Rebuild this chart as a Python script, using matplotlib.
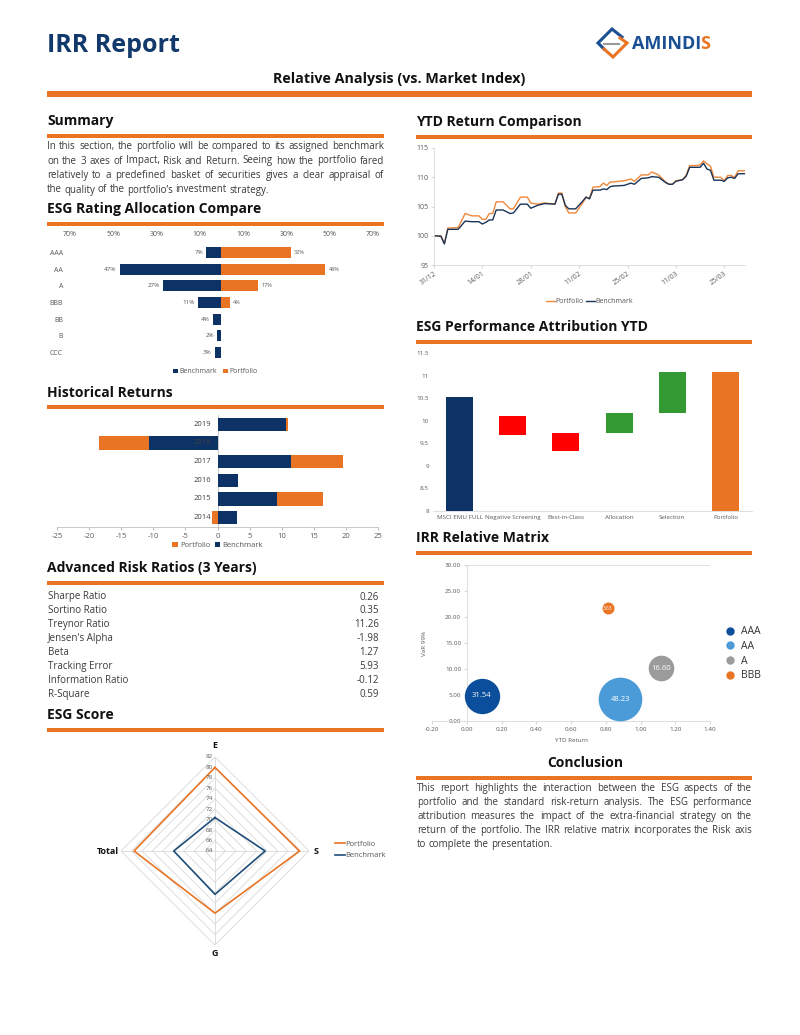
import matplotlib
matplotlib.use('Agg')
import numpy as np
import matplotlib.pyplot as plt
from matplotlib.patches import Rectangle
from matplotlib.lines import Line2D

plt.rcParams['font.family'] = ['Open Sans', 'DejaVu Sans']
plt.rcParams['axes.unicode_minus'] = False

## Data ##
rating_cats = ['AAA', 'AA', 'A', 'BBB', 'BB', 'B', 'CCC']
rating_bench = [7, 47, 27, 11, 4, 2, 3]
rating_port = [32, 48, 17, 4, 0, 0, 0]

hist_years = [2019, 2018, 2017, 2016, 2015, 2014]
hist_port = [11.0, -18.4, 19.6, 2.9, 16.5, -0.9]
hist_bench = [10.6, -10.6, 11.4, 3.2, 9.3, 3.1]

risk_names = ['Sharpe Ratio', 'Sortino Ratio', 'Treynor Ratio', "Jensen's Alpha",
              'Beta', 'Tracking Error', 'Information Ratio', 'R-Square']
risk_values = ['0.26', '0.35', '11.26', '-1.98', '1.27', '5.93', '-0.12', '0.59']

esg_axes = ['E', 'S', 'G', 'Total']
esg_port = [80.0, 80.2, 75.9, 79.5]
esg_bench = [70.4, 73.6, 72.3, 71.9]

# days since 31/12
ytd_days = [0, 2, 3, 4, 7, 9, 11, 13, 14, 15, 16, 17, 18, 20, 22, 23, 25, 27, 28, 30,
            32, 35, 36, 37, 38, 39, 41, 43, 44, 45, 46, 48, 49, 50, 51, 52, 55, 57, 58, 60,
            62, 63, 65, 67, 68, 69, 70, 72, 73, 74, 76, 77, 78, 79, 80, 81, 83, 84, 85, 86,
            87, 88, 90]
ytd_port = [100, 100, 98.7, 101.3, 101.4, 103.8, 103.4, 103.4, 102.8, 102.8,
            103.8, 103.8, 105.8, 105.8, 104.6, 104.6, 106.6, 106.6, 105.6, 105.4,
            105.6, 105.4, 107.3, 107.3, 105.0, 103.9, 103.9, 105.6, 106.6, 106.4,
            108.3, 108.4, 109.0, 108.6, 109.2, 109.2, 109.4, 109.7, 109.3, 110.4,
            110.4, 110.9, 110.4, 109.2, 108.8, 108.8, 109.4, 109.6, 110.4, 112.0,
            112.0, 112.1, 112.8, 112.3, 111.9, 110.0, 110.0, 109.4, 110.3, 110.3,
            110.0, 111.1, 111.1]
ytd_bench = [100, 99.9, 98.6, 101.1, 101.1, 102.5, 102.4, 102.4, 102.0, 102.3,
             102.7, 102.7, 104.4, 104.4, 103.8, 103.9, 105.4, 105.4, 104.7, 105.2,
             105.5, 105.4, 107.1, 107.1, 105.2, 104.6, 104.6, 105.9, 106.6, 106.3,
             107.8, 107.8, 108.0, 107.9, 108.4, 108.5, 108.6, 109.0, 108.8, 109.8,
             109.9, 110.1, 110.0, 109.1, 108.8, 108.8, 109.3, 109.6, 110.2, 111.7,
             111.7, 111.7, 112.4, 111.4, 111.2, 109.5, 109.5, 109.3, 109.9, 110.0,
             109.8, 110.6, 110.6]
ytd_tick_days = [0, 14, 28, 42, 56, 70, 84]
ytd_tick_labels = ['31/12', '14/01', '28/01', '11/02', '25/02', '11/03', '25/03']

wf_cats = ['MSCI EMU FULL', 'Negative Screening', 'Best-in-Class', 'Allocation', 'Selection', 'Portfolio']
wf_values = [10.52, -0.42, -0.38, 0.46, 0.89, 11.07]

irr_labels = ['AAA', 'AA', 'A', 'BBB']
irr_x = [0.087, 0.883, 1.118, 0.812]
irr_y = [4.86, 4.2, 10.1, 21.7]
irr_size = [31.54, 48.23, 16.60, 3.63]

summary_lines = [
    "In this section, the portfolio will be compared to its assigned benchmark",
    "on the 3 axes of Impact, Risk and Return. Seeing how the portfolio fared",
    "relatively to a predefined basket of securities gives a clear appraisal of",
    "the quality of the portfolio\u2019s investment strategy."]
conclusion_lines = [
    "This report highlights the interaction between the ESG aspects of the",
    "portfolio and the standard risk-return analysis. The ESG performance",
    "attribution measures the impact of the extra-financial strategy on the",
    "return of the portfolio. The IRR relative matrix incorporates the Risk axis",
    "to complete the presentation."]

## Style ##
ORANGE = '#E97424'
NAVY = '#0D3366'
TITLE_NAVY = '#12396B'
GREY = '#595959'
TEXT = '#3A3A3A'
AXC = '#D9D9D9'

W, H = 800, 1035
fig = plt.figure(figsize=(8, 10.35), dpi=100)
renderer = fig.canvas.get_renderer()


def fx(x):
    return x / W


def fy(y):
    return 1 - y / H


def box(x0, y0, x1, y1):
    return [fx(x0), fy(y1), (x1 - x0) / W, (y1 - y0) / H]


def rule(x0, x1, y, lw=4.5):
    fig.add_artist(Rectangle((fx(x0), fy(y + lw / 2)), (x1 - x0) / W, lw / H,
                             transform=fig.transFigure, color=ORANGE, lw=0))


def heading(x, y, s, ha='left'):
    fig.text(fx(x), fy(y), s, fontsize=10, fontweight='bold', color='#111111', ha=ha, va='center')


# Justified paragraph: words placed one by one
def justify(lines, x0, x1, y0, dy, size=7):
    for i, line in enumerate(lines):
        words = line.split()
        y = y0 + i * dy
        texts = [fig.text(0, fy(y), w, fontsize=size, color=TEXT, va='center') for w in words]
        widths = [t.get_window_extent(renderer).width for t in texts]
        if i == len(lines) - 1:
            gap = size * 0.26 * 100 / 72
        else:
            gap = (x1 - x0 - sum(widths)) / (len(words) - 1)
        x = x0
        for t, w in zip(texts, widths):
            t.set_x(fx(x))
            x += w + gap


## Header ##
fig.text(fx(47), fy(46), 'IRR Report', fontsize=18, fontweight='bold', color=TITLE_NAVY, va='center')
t1 = fig.text(fx(632), fy(44), 'AMINDI', fontsize=13, fontweight='bold', color='#1B4F93', va='center')
ext = t1.get_window_extent(renderer)
fig.text(fx(ext.x1 - 1.2), fy(44), 'S', fontsize=13, fontweight='bold', color=ORANGE, va='center')
# logo mark
fig.add_artist(Line2D([fx(622), fx(612), fx(598), fx(604)], [fy(37), fy(29), fy(43), fy(49)],
                      color='#1B4F93', lw=2.2, transform=fig.transFigure, solid_joinstyle='miter'))
fig.add_artist(Line2D([fx(604), fx(613), fx(627), fx(620)], [fy(49), fy(57), fy(43), fy(38)],
                      color=ORANGE, lw=2.2, transform=fig.transFigure, solid_joinstyle='miter'))
fig.add_artist(Line2D([fx(604), fx(619)], [fy(44), fy(44)], color='#9A9A9A', lw=1.5,
                      transform=fig.transFigure))

fig.text(fx(399), fy(79), 'Relative Analysis (vs. Market Index)', fontsize=10.3, fontweight='bold',
         color='#111111', ha='center', va='center')
rule(47, 752, 94, lw=5)

## Left column ##
heading(47, 121, 'Summary')
rule(47, 384, 136)
justify(summary_lines, 47, 384, 146.5, 14.5)

heading(47, 209, 'ESG Rating Allocation Compare')
rule(47, 384, 224)

ax = fig.add_axes(box(70, 244, 373, 361))
yy = np.arange(len(rating_cats))
ax.barh(yy, [-v for v in rating_bench], height=0.66, color=NAVY, label='Benchmark')
ax.barh(yy, rating_port, height=0.66, color=ORANGE, label='Portfolio')
for i in range(len(rating_cats)):
    ax.text(-rating_bench[i] - 1.5, i, f'{rating_bench[i]}%', ha='right', va='center', fontsize=4.5, color=GREY)
    if rating_port[i] > 0:
        ax.text(rating_port[i] + 1.5, i, f'{rating_port[i]}%', ha='left', va='center', fontsize=4, color=GREY)
ax.set_xlim(-70, 70)
ax.set_ylim(6.5, -0.5)
ax.xaxis.tick_top()
ticks = [-70, -50, -30, -10, 10, 30, 50, 70]
ax.set_xticks(ticks, [f'{abs(t)}%' for t in ticks])
ax.set_yticks(yy, rating_cats)
ax.tick_params(length=0, labelsize=5, colors=GREY)
ax.tick_params(axis='y', pad=5)
ax.tick_params(axis='x', pad=4)
for s in ax.spines.values():
    s.set_visible(False)
ax.legend(loc='upper center', bbox_to_anchor=(0.48, -0.01), ncol=2, frameon=False, fontsize=5,
          handlelength=0.7, handleheight=0.7, columnspacing=0.8, handletextpad=0.3, labelcolor=GREY)

heading(47, 393, 'Historical Returns')
rule(47, 384, 407)

ax = fig.add_axes(box(57, 415, 378, 527))
yy = np.arange(len(hist_years))
ax.barh(yy, hist_port, height=0.72, color=ORANGE, label='Portfolio', zorder=2)
ax.barh(yy, hist_bench, height=0.72, color=NAVY, label='Benchmark', zorder=3)
ax.axvline(0, color='#BFBFBF', lw=0.6, zorder=1)
for i, yr in enumerate(hist_years):
    ax.text(-1.0, i, str(yr), ha='right', va='center', fontsize=5.5, color='#404040', zorder=4)
ax.set_xlim(-25, 25)
ax.set_ylim(5.5, -0.5)
ax.set_xticks(range(-25, 26, 5))
ax.set_yticks([])
ax.tick_params(axis='x', length=2, color='#BFBFBF', labelsize=5.5, labelcolor=GREY, pad=2)
for s in ['top', 'left', 'right']:
    ax.spines[s].set_visible(False)
ax.spines['bottom'].set_color('#BFBFBF')
ax.spines['bottom'].set_linewidth(0.6)
ax.legend(loc='upper center', bbox_to_anchor=(0.5, -0.07), ncol=2, frameon=False, fontsize=5.5,
          handlelength=0.7, handleheight=0.7, columnspacing=0.6, handletextpad=0.3, labelcolor=GREY)

heading(47, 568, 'Advanced Risk Ratios (3 Years)')
rule(47, 384, 583)
for i, (name, val) in enumerate(zip(risk_names, risk_values)):
    y = 597 + i * 13.9
    fig.text(fx(48), fy(y), name, fontsize=7, color=TEXT, va='center')
    fig.text(fx(379), fy(y), val, fontsize=7, color=TEXT, va='center', ha='right')

heading(47, 715, 'ESG Score')
rule(47, 384, 730)

ax = fig.add_axes(box(121, 757, 309, 945), projection='polar')
ax.set_theta_zero_location('N')
ax.set_theta_direction(-1)
ang = np.deg2rad([0, 90, 180, 270, 0])
ax.set_ylim(64, 82)
ax.grid(False)
ax.set_xticks([])
ax.set_yticks([])
ax.spines['polar'].set_visible(False)
for lvl in range(66, 83, 2):
    ax.plot(ang, [lvl] * 5, color=AXC, lw=0.6, zorder=1)
for a in ang[:4]:
    ax.plot([a, a], [64, 82], color=AXC, lw=0.6, zorder=1)
lp, = ax.plot(ang, esg_port + esg_port[:1], color=ORANGE, lw=1.2, zorder=3, label='Portfolio')
lb, = ax.plot(ang, esg_bench + esg_bench[:1], color='#1F4E79', lw=1.2, zorder=3, label='Benchmark')
for lvl in range(64, 83, 2):
    ax.annotate(str(lvl), (0, lvl), xytext=(-1.5, 0), textcoords='offset points', ha='right',
                va='center', fontsize=4.5, color=GREY, zorder=4)
for lab, (x, y) in zip(esg_axes, [(215, 746), (316, 851), (215, 953), (108, 851)]):
    fig.text(fx(x), fy(y), lab, fontsize=6.5, fontweight='bold', color='#111111', ha='center', va='center')
fig.legend(handles=[lp, lb], loc='center left', bbox_to_anchor=(fx(328), fy(850)), frameon=False,
           fontsize=5.5, handlelength=1.3, handletextpad=0.1, labelspacing=0.5, labelcolor=GREY)

## Right column ##
heading(416, 122, 'YTD Return Comparison')
rule(416, 752, 137)

ax = fig.add_axes(box(434, 148, 745, 265))
ax.plot(ytd_days, ytd_port, color='#F0883A', lw=1.0, label='Portfolio')
ax.plot(ytd_days, ytd_bench, color='#1A3358', lw=1.0, label='Benchmark')
ax.set_xlim(0, 90)
ax.set_ylim(95, 115)
ax.set_yticks(range(95, 116, 5))
ax.set_xticks(ytd_tick_days, ytd_tick_labels, rotation=35, ha='right', rotation_mode='anchor')
ax.tick_params(length=2, color=AXC, labelsize=5, labelcolor=GREY, pad=2)
for s in ['top', 'right']:
    ax.spines[s].set_visible(False)
for s in ['left', 'bottom']:
    ax.spines[s].set_color(AXC)
    ax.spines[s].set_linewidth(0.6)
ax.legend(loc='upper center', bbox_to_anchor=(0.5, -0.23), ncol=2, frameon=False, fontsize=5,
          handlelength=1.3, columnspacing=0.3, handletextpad=0.1, labelcolor=GREY)

heading(416, 327, 'ESG Performance Attribution YTD')
rule(416, 752, 342)

ax = fig.add_axes(box(433, 353, 752, 511))
running = wf_values[0]
for i, v in enumerate(wf_values):
    if i == 0:
        ax.bar(i, v, width=0.51, color=NAVY)
    elif i == len(wf_values) - 1:
        ax.bar(i, v, width=0.51, color=ORANGE)
    else:
        ax.bar(i, v, bottom=running if v > 0 else running + v, width=0.51,
               color='#FF0000' if v < 0 else '#339933')
        running += v
ax.set_ylim(8, 11.5)
ax.set_xlim(-0.5, 5.5)
yt = np.arange(8, 11.51, 0.5)
ax.set_yticks(yt, [f'{t:g}' for t in yt])
ax.set_xticks(range(len(wf_cats)), wf_cats)
ax.tick_params(length=0, labelsize=4.5, labelcolor=GREY, pad=3)
for s in ['top', 'left', 'right']:
    ax.spines[s].set_visible(False)
ax.spines['bottom'].set_color(AXC)
ax.spines['bottom'].set_linewidth(0.6)

heading(416, 538, 'IRR Relative Matrix')
rule(416, 752, 553)

ax = fig.add_axes(box(432, 565, 710, 721))
irr_colors = ['#0B4E9B', '#4A9BD8', '#9B9B9B', '#E97424']
handles = []
for lab, x, y, s, c in zip(irr_labels, irr_x, irr_y, irr_size, irr_colors):
    ax.scatter(x, y, s=s * 20.5, color=c, zorder=3, lw=0)
    ax.text(x, y, f'{s:.2f}', color='white', ha='center', va='center', fontsize=5.5 if s > 5 else 3.5, zorder=4)
    handles.append(Line2D([], [], marker='o', ls='', color=c, markersize=5, label=lab))
ax.set_xlim(-0.2, 1.4)
ax.set_ylim(0, 30)
ax.set_xticks(np.arange(-0.2, 1.41, 0.2), [f'{t:.2f}' for t in np.arange(-0.2, 1.41, 0.2)])
ax.set_yticks(range(0, 31, 5), [f'{t:.2f}' for t in range(0, 31, 5)])
ax.tick_params(length=2, color=AXC, labelsize=4.5, labelcolor=GREY, pad=2)
ax.spines['left'].set_position(('data', 0))
for s in ['left', 'bottom']:
    ax.spines[s].set_color(AXC)
    ax.spines[s].set_linewidth(0.6)
ax.spines['right'].set_visible(False)
ax.spines['top'].set_visible(False)
ax.axhline(30, xmin=0.125, xmax=1, color=AXC, lw=0.6)
ax.legend(handles=handles, loc='center left', bbox_to_anchor=(1.02, 0.43), frameon=False, fontsize=7.5,
          handletextpad=0.0, labelspacing=0.35, labelcolor='#333333', borderaxespad=0)
fig.text(fx(424), fy(643), 'VaR 99%', rotation=90, fontsize=4.5, color=GREY, ha='center', va='center')
fig.text(fx(571), fy(741), 'YTD Return', fontsize=4.5, color=GREY, ha='center', va='center')

heading(585, 763, 'Conclusion', ha='center')
rule(416, 752, 778)
justify(conclusion_lines, 417, 752, 788.5, 14)

plt.savefig('out.png', dpi=100)
